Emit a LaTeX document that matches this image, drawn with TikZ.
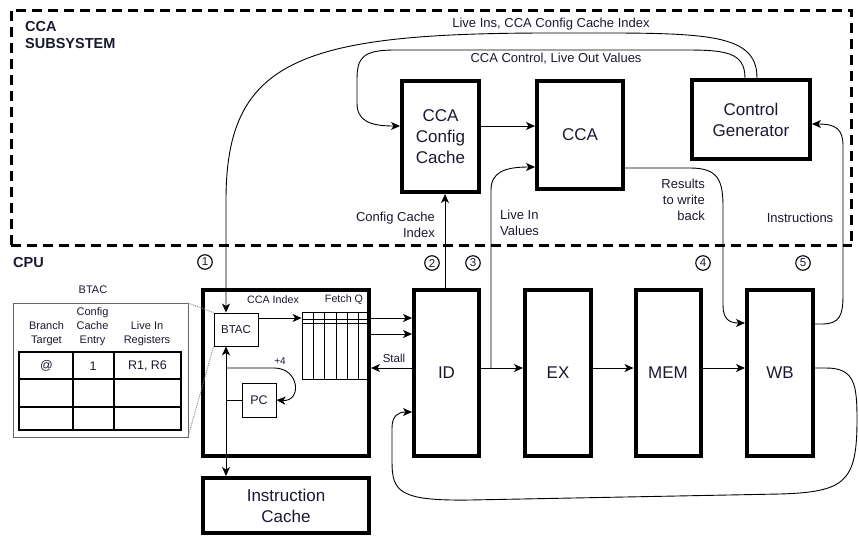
\documentclass[tikz,border=0pt]{standalone}
\usepackage{fontspec}
\setmainfont{Liberation Sans}
\usetikzlibrary{arrows.meta}
\definecolor{textc}{RGB}{25,25,50}
\begin{document}
\begin{tikzpicture}[x=1pt,y=-1pt,
  bigbox/.style={draw, line width=4pt, inner sep=0pt, align=center, text=textc,
    font=\fontsize{17}{21}\selectfont},
  smallbox/.style={draw, line width=0.9pt, inner sep=0pt, text=textc},
  conn/.style={line width=0.9pt},
  arr/.style={conn, -{Stealth[length=9pt,width=8pt,inset=2.5pt]}},
  lbl/.style={font=\fontsize{13}{16}\selectfont, inner sep=0pt, text=textc},
  slbl/.style={font=\fontsize{11}{14}\selectfont, inner sep=0pt, text=textc, align=center},
  numc/.style={circle, draw, line width=1.1pt, inner sep=0pt, minimum size=14.5pt,
    font=\fontsize{11.5}{11.5}\selectfont, text=textc},
  frame/.style={line width=3pt, dash pattern=on 10pt off 6pt},
  ttl/.style={font=\fontsize{14.5}{17}\selectfont\bfseries, inner sep=0pt, text=textc, align=left}
]
\useasboundingbox (0,0) rectangle (859,536);

% dashed subsystem frame
\draw[frame] (11,245) -- (11,10) -- (851,10) -- (851,245);
\draw[frame] (11,245) -- (852,245);
\node[ttl, anchor=north west] (sub) at (25,21) {CCA\\SUBSYSTEM};
\node[ttl, anchor=west] (cpu) at (13,263) {CPU};

% CCA subsystem boxes
\node[bigbox, minimum width=77, minimum height=111] (cfg) at (440.5,136.5) {CCA\\Config\\Cache};
\node[bigbox, minimum width=86, minimum height=108] (cca) at (580,135) {CCA};
\node[bigbox, minimum width=118, minimum height=79] (cg) at (751,119.5) {Control\\Generator};

% CPU boxes
\node[bigbox, minimum width=166, minimum height=166] (fetch) at (286,373) {};
\node[bigbox, minimum width=166, minimum height=55] (icache) at (286,505.5) {Instruction\\Cache};
\node[bigbox, minimum width=65, minimum height=166] (id) at (446.5,373) {ID};
\node[bigbox, minimum width=66, minimum height=166] (ex) at (558,373) {EX};
\node[bigbox, minimum width=65, minimum height=166] (mem) at (668,373) {MEM};
\node[bigbox, minimum width=66, minimum height=166] (wb) at (780,373) {WB};

% fetch internals
\node[smallbox, minimum width=44, minimum height=33, font=\fontsize{11.5}{14}\selectfont] (btac) at (236,329.5) {BTAC};
\node[smallbox, minimum width=34, minimum height=34, font=\fontsize{12.5}{14}\selectfont] (pc) at (259,400) {PC};
\node[smallbox, minimum width=66, minimum height=67] (fq) at (335,345.5) {};
\foreach \x in {313,324,336,347,358} \draw[line width=0.9pt] (\x,312) -- (\x,379);
\foreach \y in {319,323} \draw[line width=0.9pt] (302,\y) -- (368,\y);
\node[slbl, font=\fontsize{10.7}{12}\selectfont] (lcci) at (273,300) {CCA Index};
\node[slbl, font=\fontsize{10.7}{12}\selectfont] (lfq) at (344,300) {Fetch Q};
\node[slbl, font=\fontsize{10}{12}\selectfont] (lp4) at (280,361) {+4};

\coordinate (vx) at (226,0);
\draw[conn, {Stealth[length=9pt,width=8pt,inset=2.5pt]}-{Stealth[length=9pt,width=8pt,inset=2.5pt]}]
  (btac.south -| vx) -- (icache.north -| vx);
\draw[arr] (226,368) -- (274,368) .. controls (300,368) and (302,402) .. (pc.east);
\draw[conn] (pc.west) -- (pc.west -| vx);
\draw[arr] (btac.east |- 0,318) -- (fq.west |- 0,318);

% BTAC table
\node[slbl] (tbt) at (93,290) {BTAC};
\draw[line width=0.8pt, gray!80!black] (13,303) rectangle (188,437);
\draw[densely dotted, line width=0.9pt, gray] (188,303) -- (btac.north west);
\draw[densely dotted, line width=0.9pt, gray] (188,437) -- (btac.south west);
\draw[line width=1.2pt] (19,352) rectangle (181,430);
\draw[line width=1.2pt] (19,379) -- (181,379) (19,407) -- (181,407)
  (73,352) -- (73,430) (114,352) -- (114,430);
\node[slbl] (h1) at (46.5,334) {Branch\\Target};
\node[slbl] (h2) at (92.5,327) {Config\\Cache\\Entry};
\node[slbl] (h3) at (147,334) {Live In\\Registers};
\node[slbl, font=\fontsize{12.5}{14}\selectfont] (r1) at (46.5,366) {@};
\node[slbl, font=\fontsize{12.5}{14}\selectfont] (r2) at (93,366) {1};
\node[slbl, font=\fontsize{12.5}{14}\selectfont] (r3) at (147.5,366) {R1, R6};

% pipeline
\draw[arr] (fq.east |- 0,318) -- (id.west |- 0,318);
\draw[arr] (fq.east |- 0,334) -- (id.west |- 0,334);
\draw[arr] (id.west |- 0,368) -- (fetch.east |- 0,368);
\node[slbl, font=\fontsize{11.5}{12}\selectfont] (lstall) at (394,358) {Stall};
\draw[arr] (id.east |- 0,368) -- (ex.west |- 0,368);
\draw[arr] (ex.east |- 0,368) -- (mem.west |- 0,368);
\draw[arr] (mem.east |- 0,368) -- (wb.west |- 0,368);
\draw[arr] (wb.east |- 0,368) -- (826,368) .. controls (855,368) and (857,385) .. (857,420)
  .. controls (857,482) and (845,492) .. (780,494) -- (470,500)
  .. controls (400,501) and (392,492) .. (392,462) -- (392,428)
  .. controls (392,416) and (398,412) .. (id.west |- 0,412);

% CPU <-> CCA subsystem
\draw[arr] (cg.north -| 757,0) .. controls (757,30) and (700,33) .. (550,33)
  .. controls (300,33) and (226,60) .. (226,200) -- (btac.north -| vx);
\node[lbl] (llive) at (551,24) {Live Ins, CCA Config Cache Index};
\draw[arr] (cg.north -| 745,0) .. controls (745,52) and (725,50) .. (685,50) -- (395,50)
  .. controls (362,50) and (357,58) .. (357,80) -- (357,103)
  .. controls (357,121) and (370,126) .. (cfg.west |- 0,126);
\node[lbl] (lctl) at (556,59) {CCA Control, Live Out Values};
\draw[arr] (cfg.east |- 0,126) -- (cca.west |- 0,126);
\draw[arr] (id.north -| 445,0) -- (cfg.south -| 445,0);
\node[lbl, align=right, anchor=north east] (lcci2) at (435,212) {Config Cache\\Index};
\draw[arr] (491,368) -- (491,190) .. controls (491,172) and (505,167) .. (cca.west |- 0,167);
\node[lbl, align=left, anchor=north west] (lliv) at (500,210) {Live In\\Values};
\draw[arr] (cca.east |- 0,168) -- (690,168) .. controls (718,168) and (723,180) .. (723,207)
  -- (723,305) .. controls (723,319) and (729,323) .. (wb.west |- 0,323);
\node[lbl, align=right, anchor=north east] (lres) at (705,179) {Results\\to write\\back};
\draw[arr] (wb.east |- 0,324) -- (822,324) .. controls (840,324) and (843,315) .. (843,295)
  -- (843,146) .. controls (843,130) and (837,124) .. (cg.east |- 0,124);
\node[lbl] (linst) at (800,218) {Instructions};

% circled numbers
\node[numc] (c1) at (205,262) {1};
\node[numc] (c2) at (432,263) {2};
\node[numc] (c3) at (473,263) {3};
\node[numc] (c4) at (703,263) {4};
\node[numc] (c5) at (803,263) {5};
\end{tikzpicture}
\end{document}
